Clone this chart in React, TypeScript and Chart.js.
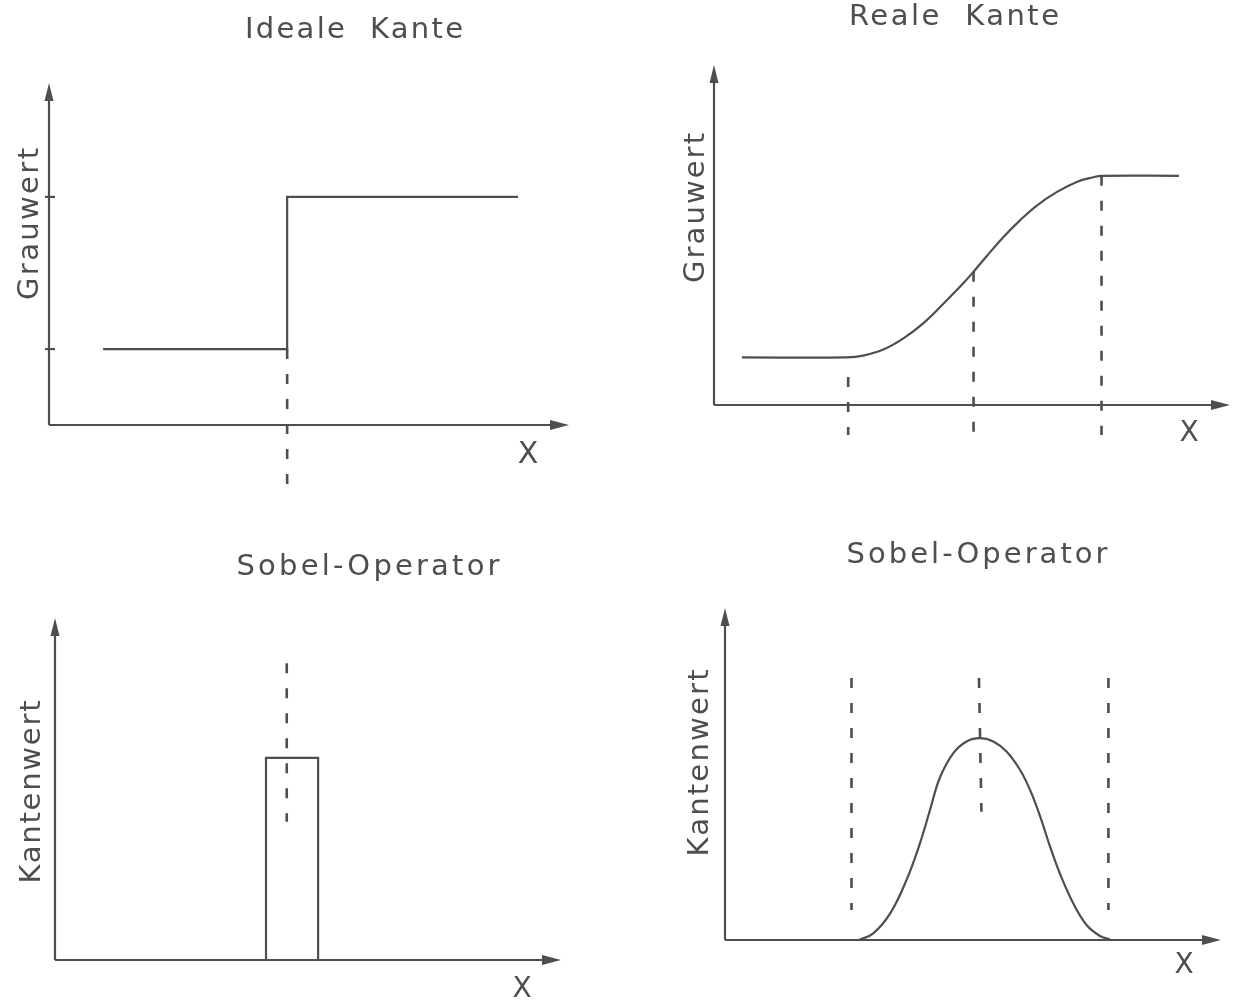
import React, { useEffect, useRef } from "react";
import { Chart, registerables } from "chart.js";

Chart.register(...registerables);

const INK = "#4e4e4e";
const FONT_FAMILY = "'DejaVu Sans', 'Liberation Sans', sans-serif";

// ---------- Panel 1: Ideale Kante ----------
const idealEdgeX = [1.04, 4.58, 4.58, 9.02];
const idealEdgeY = [2.22, 2.22, 6.67, 6.67];
const idealGuideX = [4.58, 4.58];
const idealGuideY = [2.22, -1.96];
const idealLevelTicks = [2.22, 6.67];

// ---------- Panel 2: Reale Kante ----------
const realEdgeX = [0.54, 2.57, 2.89, 3.28, 3.67, 4.06, 4.44, 4.83, 5.03, 5.28, 5.61, 5.93, 6.25, 6.64, 7.03, 7.35, 7.51, 9.01];
const realEdgeY = [1.40, 1.40, 1.45, 1.63, 1.96, 2.41, 2.97, 3.58, 3.92, 4.37, 4.94, 5.43, 5.86, 6.26, 6.56, 6.70, 6.74, 6.74];
const realGuideX = [2.60, 5.03, 7.51];
const realGuideTop = [0.82, 3.92, 6.74];
const realGuideBottom = [-0.88, -0.88, -0.88];

// ---------- Panel 3: Sobel-Operator (ideal) ----------
const sobelIdealX = [4.17, 4.17, 5.2, 5.2];
const sobelIdealY = [0, 5.91, 5.91, 0];
const sobelIdealGuideX = [4.58, 4.58];
const sobelIdealGuideY = [8.68, 4.04];

// ---------- Panel 4: Sobel-Operator (real) ----------
const sobelRealX = [2.70, 2.99, 3.33, 3.66, 3.93, 4.13, 4.33, 4.60, 4.87, 5.14, 5.41, 5.68, 5.95, 6.15, 6.35, 6.55, 6.75, 7.02, 7.29, 7.56, 7.76];
const sobelRealY = [0, 0.20, 0.80, 1.81, 2.91, 3.90, 4.88, 5.62, 5.98, 6.08, 5.98, 5.67, 5.12, 4.52, 3.74, 2.83, 2.01, 1.11, 0.45, 0.12, 0.02];
const sobelRealGuideXTop = [2.55, 5.12, 7.73];
const sobelRealGuideXBottom = [2.55, 5.17, 7.73];
const sobelRealGuideTop = [7.89, 7.89, 7.89];
const sobelRealGuideBottom = [0.90, 3.86, 0.90];

const W = 1234;
const H = 1003;

type TextSpec = { text: string; x: number; y: number; width: number; size: number; rotate?: boolean };

type PanelSpec = {
  box: { left: number; right: number; top: number; bottom: number };
  datasets: any[];
  texts: TextSpec[];
  yTicks?: number[];
};

const pts = (xs: number[], ys: number[]) => xs.map((x, i) => ({ x, y: ys[i] }));

const solid = (data: any[], smooth = false) => ({
  data,
  borderColor: INK,
  borderWidth: 2.2,
  pointRadius: 0,
  fill: false,
  tension: smooth ? 0.4 : 0,
  clip: false,
});

const dashed = (data: any[]) => ({
  data,
  borderColor: INK,
  borderWidth: 2.6,
  borderDash: [10, 15],
  pointRadius: 0,
  fill: false,
  tension: 0,
  clip: false,
});

const guides = (xt: number[], xb: number[], top: number[], bottom: number[]) =>
  xt.map((x, i) => dashed([{ x, y: top[i] }, { x: xb[i], y: bottom[i] }]));

const panels: PanelSpec[] = [
  {
    box: { left: 49, right: 569, top: 83, bottom: 425 },
    datasets: [solid(pts(idealEdgeX, idealEdgeY)), dashed(pts(idealGuideX, idealGuideY))],
    texts: [
      { text: "Ideale  Kante", x: 354, y: 38, width: 218, size: 29 },
      { text: "Grauwert", x: 38, y: 224, width: 152, size: 29, rotate: true },
      { text: "X", x: 528, y: 463, width: 0, size: 30 },
    ],
    yTicks: idealLevelTicks,
  },
  {
    box: { left: 714, right: 1230, top: 65, bottom: 405 },
    datasets: [
      solid(pts(realEdgeX, realEdgeY), true),
      ...guides(realGuideX, realGuideX, realGuideTop, realGuideBottom),
    ],
    texts: [
      { text: "Reale  Kante", x: 954, y: 25, width: 210, size: 29 },
      { text: "Grauwert", x: 704, y: 208, width: 150, size: 29, rotate: true },
      { text: "X", x: 1189, y: 441, width: 0, size: 28 },
    ],
  },
  {
    box: { left: 55, right: 561, top: 618, bottom: 960 },
    datasets: [solid(pts(sobelIdealX, sobelIdealY)), dashed(pts(sobelIdealGuideX, sobelIdealGuideY))],
    texts: [
      { text: "Sobel-Operator", x: 368, y: 575, width: 263, size: 29 },
      { text: "Kantenwert", x: 40, y: 792, width: 183, size: 29, rotate: true },
      { text: "X", x: 522, y: 997, width: 0, size: 28 },
    ],
  },
  {
    box: { left: 725, right: 1221, top: 608, bottom: 940 },
    datasets: [
      solid(pts(sobelRealX, sobelRealY), true),
      ...guides(sobelRealGuideXTop, sobelRealGuideXBottom, sobelRealGuideTop, sobelRealGuideBottom),
    ],
    texts: [
      { text: "Sobel-Operator", x: 977, y: 563, width: 261, size: 29 },
      { text: "Kantenwert", x: 708, y: 763, width: 187, size: 29, rotate: true },
      { text: "X", x: 1184, y: 973, width: 0, size: 28 },
    ],
  },
];

function drawSpacedText(ctx: CanvasRenderingContext2D, t: TextSpec) {
  ctx.save();
  ctx.font = `${t.size}px ${FONT_FAMILY}`;
  ctx.fillStyle = INK;
  ctx.textBaseline = "alphabetic";
  (ctx as any).letterSpacing = "0px";
  const natural = ctx.measureText(t.text).width;
  const target = t.width > 0 ? t.width : natural;
  const n = Math.max(1, t.text.length - 1);
  const sp = t.width > 0 ? (target - natural) / n : 0;
  (ctx as any).letterSpacing = `${sp}px`;
  ctx.textAlign = "left";
  if (t.rotate) {
    ctx.translate(t.x, t.y);
    ctx.rotate(-Math.PI / 2);
    ctx.fillText(t.text, -target / 2, 0);
  } else {
    ctx.fillText(t.text, t.x - target / 2, t.y);
  }
  ctx.restore();
}

const axesPlugin = {
  id: "arrowAxes",
  beforeDatasetsDraw(chart: any, _args: any, opts: any) {
    const ctx: CanvasRenderingContext2D = chart.ctx;
    const { left, right, top, bottom } = chart.chartArea;
    ctx.save();
    ctx.strokeStyle = INK;
    ctx.fillStyle = INK;
    ctx.lineWidth = 2.2;
    ctx.lineCap = "butt";
    // y axis
    ctx.beginPath();
    ctx.moveTo(left, bottom);
    ctx.lineTo(left, top + 14);
    ctx.stroke();
    ctx.beginPath();
    ctx.moveTo(left, top);
    ctx.lineTo(left - 4.5, top + 18);
    ctx.lineTo(left + 4.5, top + 18);
    ctx.closePath();
    ctx.fill();
    // x axis
    ctx.beginPath();
    ctx.moveTo(left, bottom);
    ctx.lineTo(right - 14, bottom);
    ctx.stroke();
    ctx.beginPath();
    ctx.moveTo(right, bottom);
    ctx.lineTo(right - 19, bottom - 5);
    ctx.lineTo(right - 19, bottom + 5);
    ctx.closePath();
    ctx.fill();
    // level ticks on y axis
    const ticks: number[] = (opts && opts.yTicks) || [];
    const ys = chart.scales.y;
    ticks.forEach((v) => {
      const py = ys.getPixelForValue(v);
      ctx.beginPath();
      ctx.moveTo(left - 4, py);
      ctx.lineTo(left + 6, py);
      ctx.stroke();
    });
    ctx.restore();
  },
  afterDraw(chart: any, _args: any, opts: any) {
    const ctx: CanvasRenderingContext2D = chart.ctx;
    const texts: TextSpec[] = (opts && opts.texts) || [];
    texts.forEach((t) => drawSpacedText(ctx, t));
  },
};

function Panel({ spec }: { spec: PanelSpec }) {
  const ref = useRef<HTMLCanvasElement | null>(null);
  useEffect(() => {
    if (!ref.current) return;
    const { box } = spec;
    const chart = new Chart(ref.current, {
      type: "line",
      data: { datasets: spec.datasets },
      options: {
        animation: false,
        responsive: false,
        devicePixelRatio: 1,
        layout: {
          padding: { left: box.left, right: W - box.right, top: box.top, bottom: H - box.bottom },
        },
        scales: {
          x: { type: "linear", min: 0, max: 10, display: false },
          y: { type: "linear", min: 0, max: 10, display: false },
        },
        plugins: {
          legend: { display: false },
          tooltip: { enabled: false },
          arrowAxes: { texts: spec.texts, yTicks: spec.yTicks || [] },
        } as any,
      },
      plugins: [axesPlugin],
    } as any);
    return () => chart.destroy();
  }, [spec]);
  return (
    <canvas
      ref={ref}
      width={W}
      height={H}
      style={{ position: "absolute", left: 0, top: 0, width: W, height: H }}
    />
  );
}

export default function App() {
  return (
    <div style={{ position: "absolute", left: 0, top: 0, width: W, height: H, background: "#ffffff", overflow: "hidden" }}>
      {panels.map((p, i) => (
        <Panel key={i} spec={p} />
      ))}
    </div>
  );
}
